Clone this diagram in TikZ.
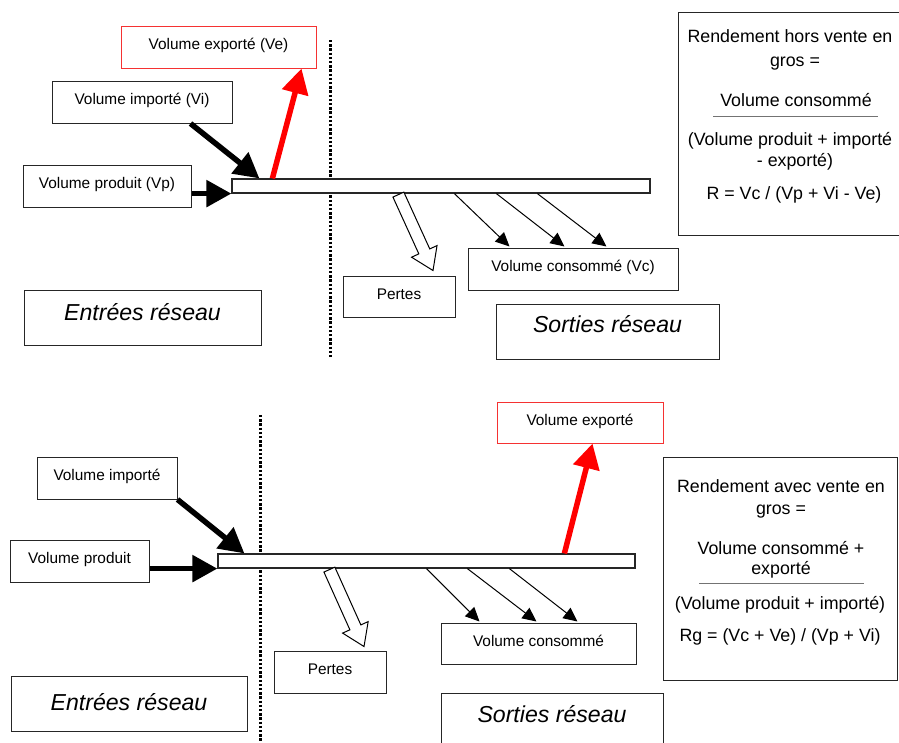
\documentclass[tikz,border=0pt]{standalone}
\usepackage{fontspec}
\setmainfont{Liberation Sans}
\usetikzlibrary{arrows.meta,calc}
\begin{document}
\begin{tikzpicture}[x=1pt,y=-1pt,
  box/.style={draw=black!85, line width=1pt, inner sep=0pt, text height=11pt, text depth=6pt,
    font=\fontsize{15.4}{18}\selectfont},
  redbox/.style={box, draw={rgb,255:red,245;green,50;blue,50}},
  bigbox/.style={draw=black!85, line width=1pt, inner sep=0pt, font=\fontsize{23.1}{27}\selectfont\itshape},
  pipe/.style={draw=black!85, line width=1.2pt, inner sep=0pt, fill=white},
  fbox/.style={draw=black!85, line width=1pt, inner sep=0pt},
  ftext/.style={anchor=base, inner sep=0pt, font=\fontsize{17.8}{21}\selectfont},
  frule/.style={draw=black!55, line width=0.8pt},
  bigarrow/.style={line width=5.5pt, -{Triangle[length=25pt,width=26pt]}},
  redarrow/.style={bigarrow, draw=red, fill=red},
  thinarrow/.style={line width=1pt, -{Triangle[length=14pt,width=13pt]}},
  hollow/.style={draw=black, fill=white, line width=1pt, line join=miter},
  divider/.style={line width=3pt, dash pattern=on 2.4pt off 1.8pt, black}
]
\useasboundingbox (0,0) rectangle (899,742);

% ================= TOP =================
\coordinate (d1a) at (330,40);
\coordinate (d1b) at (330,358);
\draw[divider] (d1a) -- (d1b);

\node[redbox, minimum width=195, minimum height=42] (ve1) at (218.5,47) {Volume exporté (Ve)};
\node[box, minimum width=180, minimum height=42] (vi1) at (142,102) {Volume importé (Vi)};
\node[box, minimum width=168, minimum height=42] (vp1) at (107,186) {Volume produit (Vp)};
\node[pipe, minimum width=418, minimum height=14] (pipe1) at (441,186) {};
\node[box, minimum width=210, minimum height=42] (vc1) at (573,269) {Volume consommé (Vc)};
\node[box, minimum width=112, minimum height=41] (pertes1) at (399,296.5) {Pertes};
\node[bigbox, minimum width=223, minimum height=55, text height=16pt, text depth=14.4pt] (sorties1) at (607.5,331.5) {Sorties réseau};
\node[bigbox, minimum width=237, minimum height=55, text height=16pt, text depth=10.4pt] (entrees1) at (142.5,317.5) {Entrées réseau};

\node[fbox, minimum width=223, minimum height=223] (form1) at (789.5,123.5) {};
\node[ftext] (f1a) at (790,42.6) {Rendement hors vente en};
\node[ftext] (f1b) at (795,66.6) {gros =};
\node[ftext] (f1c) at (796,106.6) {Volume consommé};
\coordinate (r1a) at (713,116);
\coordinate (r1b) at (878,116);
\draw[frule] (r1a) -- (r1b);
\node[ftext] (f1d) at (790,145.6) {(Volume produit + importé};
\node[ftext] (f1e) at (795,166.6) {- exporté)};
\node[ftext] (f1f) at (794,199.6) {R = Vc / (Vp + Vi - Ve)};

% arrows top
\draw[bigarrow] (vp1.east |- pipe1.south west) -- (pipe1.south west);
\draw[bigarrow] ($(vi1.south east)+(-42,0)$) -- ($(pipe1.north west)+(28,0)$);
\draw[redarrow] ($(pipe1.north west)+(41,0)$) -- ($(ve1.south west)+(181,0)$);
\draw[thinarrow] ($(pipe1.south west)+(223,0)$) -- ($(vc1.north west)+(42,-1)$);
\draw[thinarrow] ($(pipe1.south west)+(265,0)$) -- ($(vc1.north west)+(97,-1)$);
\draw[thinarrow] ($(pipe1.south west)+(306,0)$) -- ($(vc1.north west)+(139,-1)$);

\coordinate (s1) at ($(pipe1.south west)+(167,1)$);
\coordinate (t1) at ($(pertes1.north)+(34,-5)$);
\coordinate (h1) at ($(t1)!21pt!(s1)$);
\draw[hollow] ($(s1)!6pt!90:(t1)$) -- ($(h1)!6pt!-90:(s1)$) -- ($(h1)!14pt!-90:(s1)$) -- (t1)
  -- ($(h1)!14pt!90:(s1)$) -- ($(h1)!6pt!90:(s1)$) -- ($(s1)!6pt!-90:(t1)$) -- cycle;

% ================= BOTTOM =================
\coordinate (d2a) at (260,415);
\coordinate (d2b) at (260,742);
\draw[divider] (d2a) -- (d2b);

\node[redbox, minimum width=166, minimum height=41] (ve2) at (580,422.5) {Volume exporté};
\node[box, minimum width=140, minimum height=42] (vi2) at (107,478) {Volume importé};
\node[box, minimum width=139, minimum height=42] (vp2) at (79.5,561) {Volume produit};
\node[pipe, minimum width=417, minimum height=14] (pipe2) at (426.5,561) {};
\node[box, minimum width=195, minimum height=41] (vc2) at (538.5,643.5) {Volume consommé};
\node[box, minimum width=112, minimum height=42] (pertes2) at (330,672) {Pertes};
\node[bigbox, minimum width=222, minimum height=67, text height=16pt, text depth=24.4pt] (sorties2) at (552,726.5) {Sorties réseau};
\node[bigbox, minimum width=236, minimum height=55, text height=16pt, text depth=2.4pt] (entrees2) at (129,703.5) {Entrées réseau};

\node[fbox, minimum width=234, minimum height=223] (form2) at (780,568.5) {};
\node[ftext] (f2a) at (781,492.6) {Rendement avec vente en};
\node[ftext] (f2b) at (781,514.6) {gros =};
\node[ftext] (f2c) at (781,554.6) {Volume consommé +};
\node[ftext] (f2d) at (781,574.6) {exporté};
\coordinate (r2a) at (699,583);
\coordinate (r2b) at (864,583);
\draw[frule] (r2a) -- (r2b);
\node[ftext] (f2e) at (780,609.6) {(Volume produit + importé)};
\node[ftext] (f2f) at (780,641.6) {Rg = (Vc + Ve) / (Vp + Vi)};

% arrows bottom
\draw[bigarrow] (vp2.east |- pipe2.south west) -- (pipe2.south west);
\draw[bigarrow] (vi2.south east) -- ($(pipe2.north west)+(27,0)$);
\draw[redarrow] ($(pipe2.north west)+(347,0)$) -- ($(ve2.south west)+(96,0)$);
\draw[thinarrow] ($(pipe2.south west)+(209,0)$) -- ($(vc2.north west)+(39,-1)$);
\draw[thinarrow] ($(pipe2.south west)+(250,0)$) -- ($(vc2.north west)+(96,-1)$);
\draw[thinarrow] ($(pipe2.south west)+(292,0)$) -- ($(vc2.north west)+(137,-1)$);

\coordinate (s2) at ($(pipe2.south west)+(112,1)$);
\coordinate (t2) at ($(pertes2.north)+(34,-4)$);
\coordinate (h2) at ($(t2)!21pt!(s2)$);
\draw[hollow] ($(s2)!6pt!90:(t2)$) -- ($(h2)!6pt!-90:(s2)$) -- ($(h2)!14pt!-90:(s2)$) -- (t2)
  -- ($(h2)!14pt!90:(s2)$) -- ($(h2)!6pt!90:(s2)$) -- ($(s2)!6pt!-90:(t2)$) -- cycle;
\end{tikzpicture}
\end{document}
